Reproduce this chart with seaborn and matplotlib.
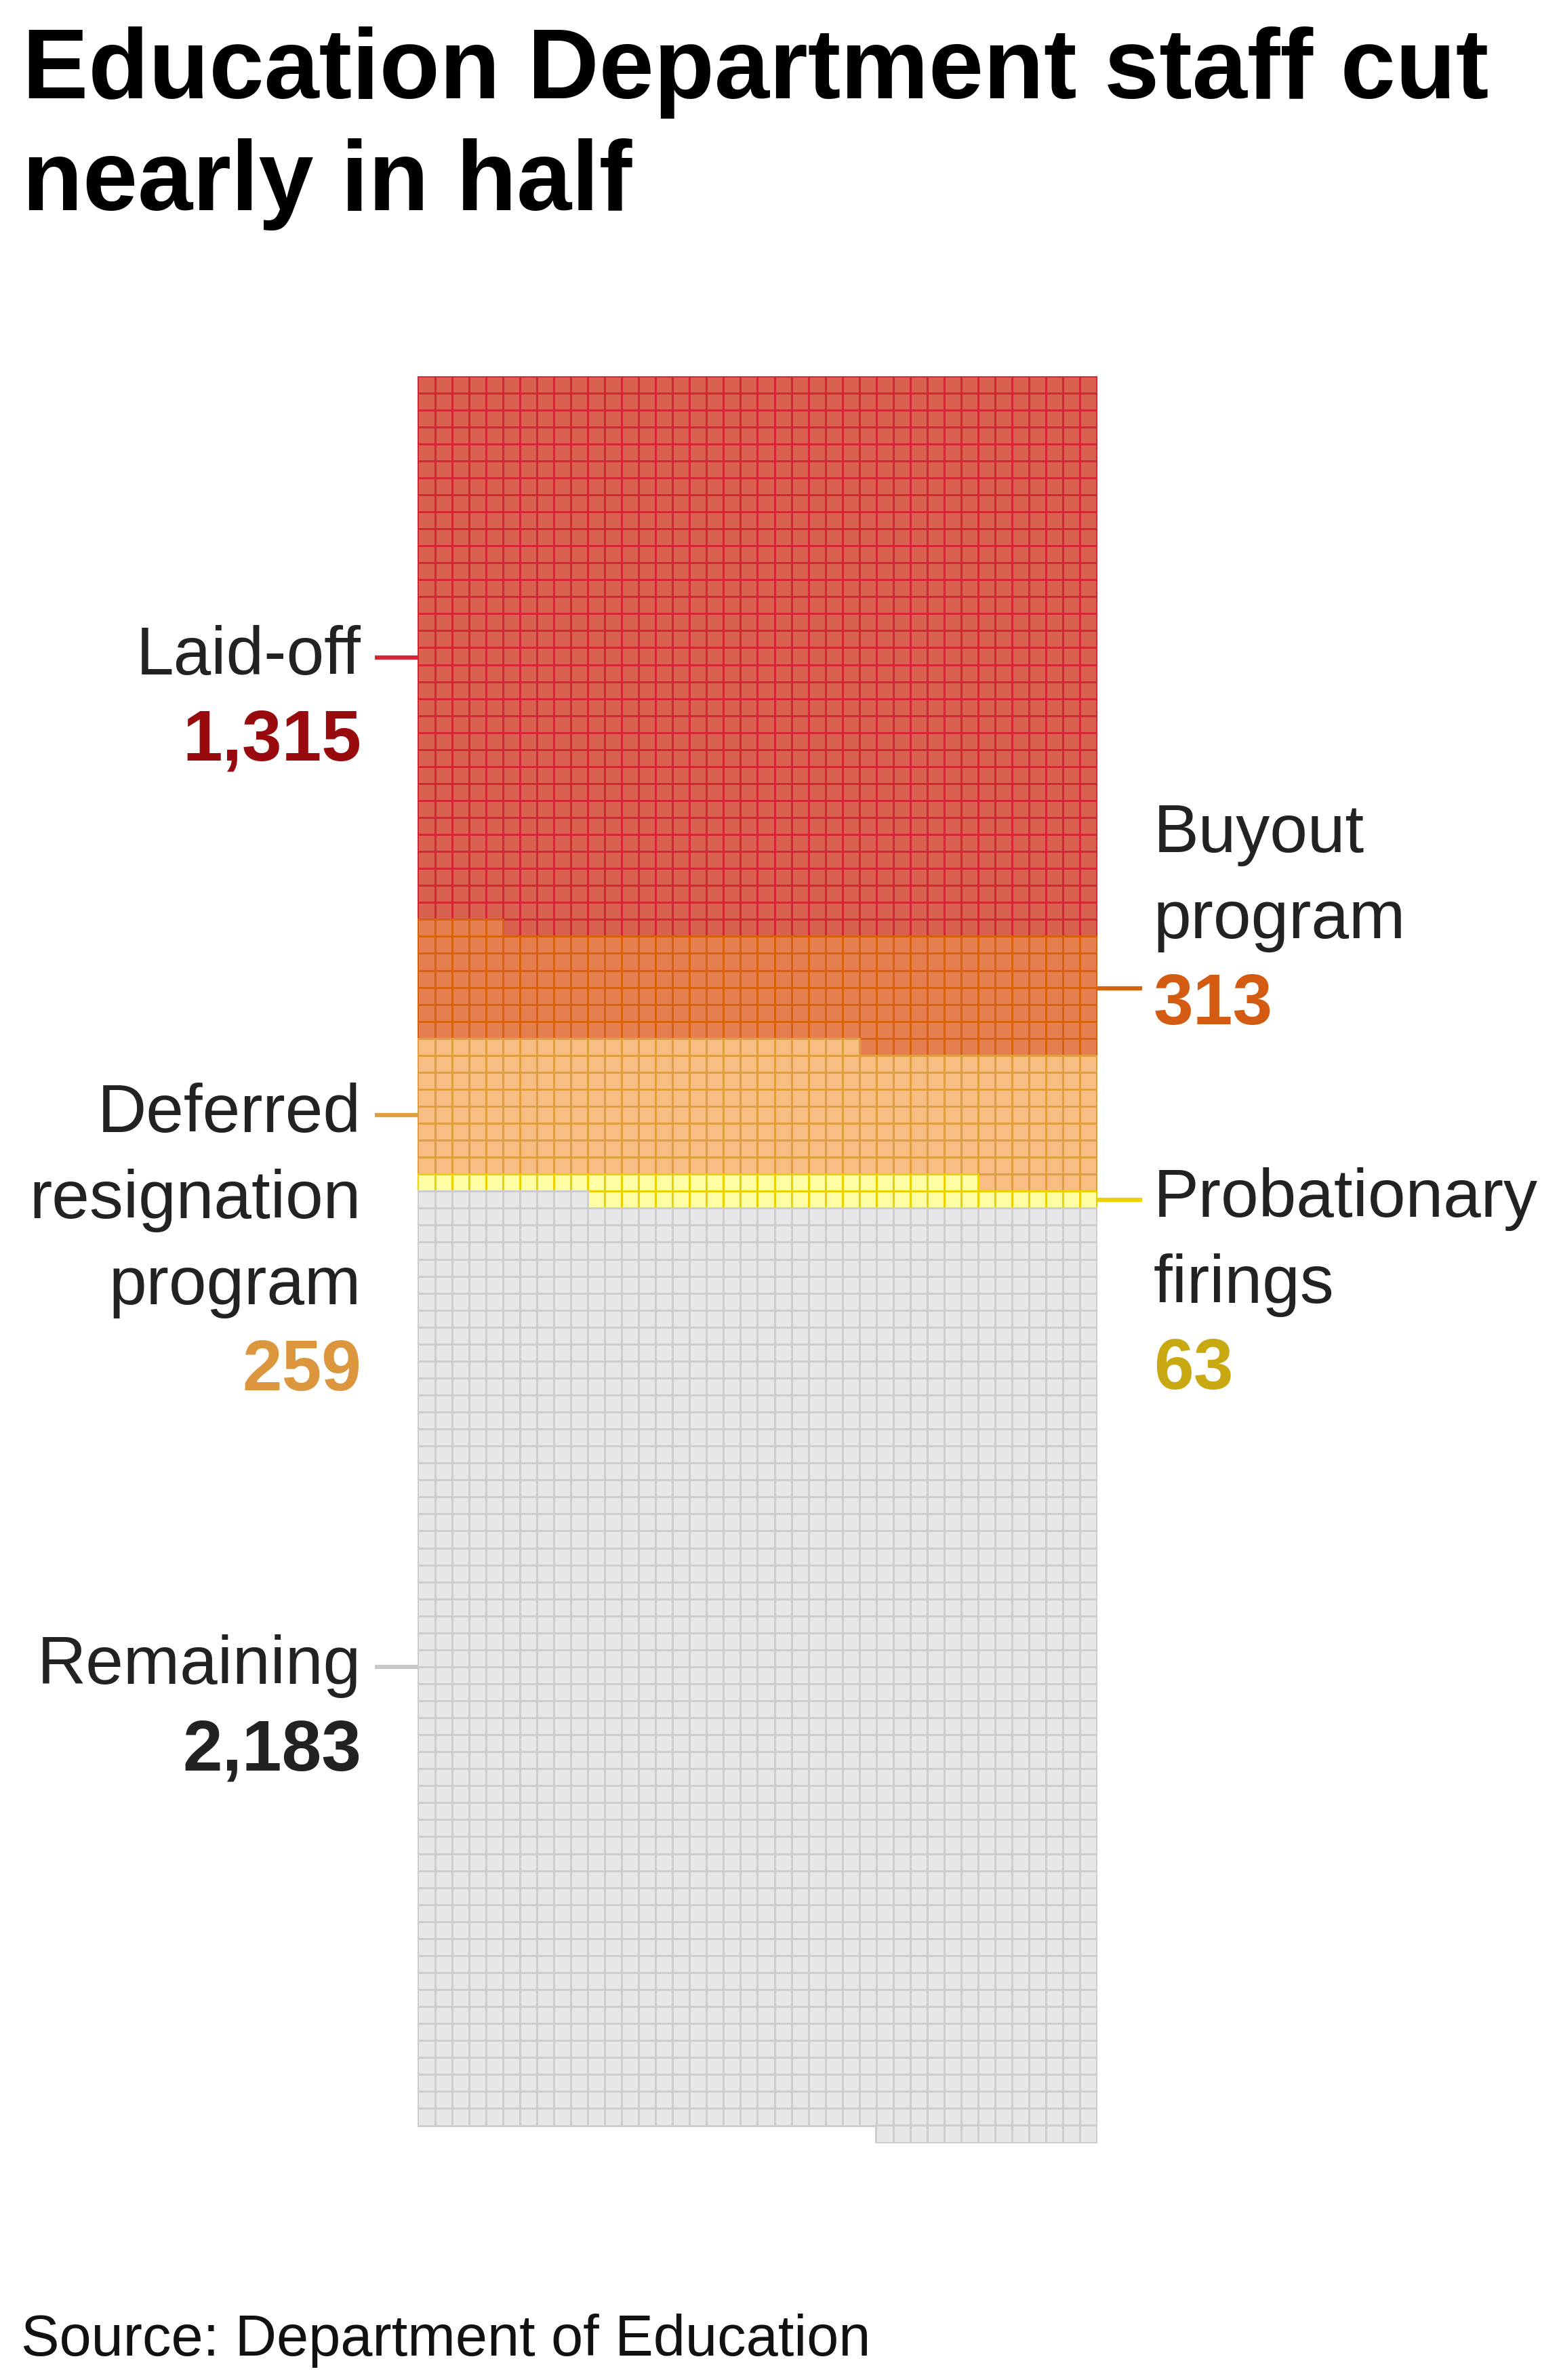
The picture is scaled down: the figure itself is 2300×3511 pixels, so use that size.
import numpy as np
import pandas as pd
import matplotlib
matplotlib.use("Agg")
import matplotlib.pyplot as plt
from matplotlib.lines import Line2D
import seaborn as sns

# ---------------- data ----------------
band_keys = ["laid_off", "band2", "band3", "probationary", "remaining"]
band_cells = [1315, 259, 313, 63, 2183]          # cells drawn in the waffle, top to bottom
band_fill = ["#d8614f", "#e57f4f", "#f8bd83", "#ffffa3", "#e7e7ea"]
band_edge = ["#d42634", "#d8620c", "#df9f3e", "#ecd000", "#cdcdd0"]

label_names = ["Laid-off", "Buyout program", "Deferred resignation program",
               "Probationary firings", "Remaining"]
label_values = ["1,315", "313", "259", "63", "2,183"]
label_value_colors = ["#990a0f", "#d45b12", "#dc963e", "#c9a912", "#222222"]
leader_colors = ["#d42634", "#d8620c", "#df9f3e", "#ecd000", "#c8c8c8"]

n_cols = 40

# ---------------- build waffle positions (fill rows right-to-left) ----------------
recs = []
idx = 0
for key, n in zip(band_keys, band_cells):
    for _ in range(n):
        r = idx // n_cols
        c = n_cols - 1 - (idx % n_cols)
        recs.append((key, c, r))
        idx += 1
df = pd.DataFrame(recs, columns=["band", "col", "row"])
n_rows = int(np.ceil(idx / n_cols))

# ---------------- figure ----------------
W, H = 2300, 3511
DPI = 100
sns.set_style("white")
plt.rcParams["font.family"] = ["Liberation Sans", "DejaVu Sans"]
fig = plt.figure(figsize=(W / DPI, H / DPI), dpi=DPI)
fig.patch.set_facecolor("white")

ax_left, ax_top, ax_w, ax_h = 616, 555, 1002, 2606
ax = fig.add_axes([ax_left / W, 1 - (ax_top + ax_h) / H, ax_w / W, ax_h / H])

cell_px = ax_w / n_cols
cell_pt = cell_px * 72 / DPI
edge_lw = 3.0 * 72 / DPI

for key, fc, ec in zip(band_keys, band_fill, band_edge):
    sub = df[df["band"] == key]
    sns.scatterplot(data=sub, x="col", y="row", marker="s", s=cell_pt ** 2,
                    color=fc, edgecolor=ec, linewidth=edge_lw, ax=ax,
                    legend=False, zorder=3)

ax.set_xlim(-0.5, n_cols - 0.5)
ax.set_ylim(n_rows - 0.5, -0.5)
ax.set_axis_off()

# ---------------- text helpers ----------------
def ftext(xpx, ypx, s, **kw):
    fig.text(xpx / W, 1 - ypx / H, s, va="baseline", **kw)

def hline(x0, x1, ypx, color):
    fig.add_artist(Line2D([x0 / W, x1 / W], [1 - ypx / H, 1 - ypx / H],
                          color=color, lw=4.5, solid_capstyle="butt",
                          transform=fig.transFigure))

# title
ftext(33, 145, "Education Department staff cut", fontsize=105,
      fontweight="bold", color="#000000")
ftext(33, 310, "nearly in half", fontsize=105, fontweight="bold", color="#000000")

LBL = 72
NUM = 76
TXT = "#222222"
line_gap = 127

# left-side labels (right aligned)
xl = 533
# Laid-off
hline(553, ax_left, 970, leader_colors[0])
ftext(xl, 995, "Laid-off", fontsize=LBL, color=TXT, ha="right")
ftext(xl, 995 + line_gap, label_values[0], fontsize=NUM, fontweight="bold",
      color=label_value_colors[0], ha="right")
# Deferred resignation program
hline(553, ax_left, 1645, leader_colors[2])
for i, t in enumerate(["Deferred", "resignation", "program"]):
    ftext(xl, 1670 + i * line_gap, t, fontsize=LBL, color=TXT, ha="right")
ftext(xl, 1670 + 3 * line_gap, label_values[2], fontsize=NUM, fontweight="bold",
      color=label_value_colors[2], ha="right")
# Remaining
hline(553, ax_left, 2459, leader_colors[4])
ftext(xl, 2484, "Remaining", fontsize=LBL, color=TXT, ha="right")
ftext(xl, 2484 + line_gap, label_values[4], fontsize=NUM, fontweight="bold",
      color=label_value_colors[4], ha="right")

# right-side labels (left aligned)
xr = 1702
ax_right = ax_left + ax_w
# Buyout program
hline(ax_right, 1685, 1458, leader_colors[1])
ftext(xr, 1257, "Buyout", fontsize=LBL, color=TXT, ha="left")
ftext(xr, 1257 + line_gap, "program", fontsize=LBL, color=TXT, ha="left")
ftext(xr, 1257 + 2 * line_gap, label_values[1], fontsize=NUM, fontweight="bold",
      color=label_value_colors[1], ha="left")
# Probationary firings
hline(ax_right, 1685, 1770, leader_colors[3])
ftext(xr, 1795, "Probationary", fontsize=LBL, color=TXT, ha="left")
ftext(xr, 1795 + line_gap, "firings", fontsize=LBL, color=TXT, ha="left")
ftext(xr, 1795 + 2 * line_gap, label_values[3], fontsize=NUM, fontweight="bold",
      color=label_value_colors[3], ha="left")

# source
ftext(31, 3475, "Source: Department of Education", fontsize=61, color="#111111")

fig.savefig("out.png", dpi=DPI, facecolor="white")
